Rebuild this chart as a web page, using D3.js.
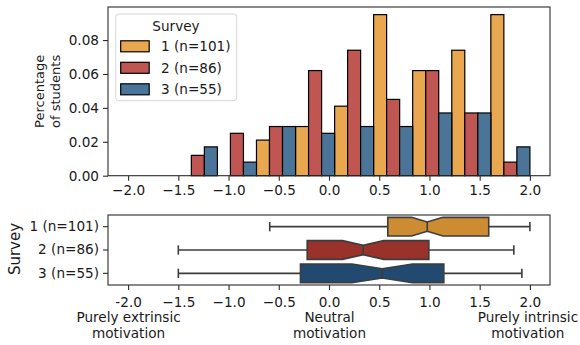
<!DOCTYPE html>
<html>
<head>
<meta charset="utf-8">
<script src="https://cdn.jsdelivr.net/npm/d3@7"></script>
<style>
  body { margin: 0; background: #fff; }
  svg { font-family: "DejaVu Sans", sans-serif; }
</style>
</head>
<body>
<div id="chart"></div>
<script>
// survey groups
const surveys = ['1 (n=101)', '2 (n=86)', '3 (n=55)'];
const histColors = ['#e9a84f', '#bf5652', '#4b7499'];
const boxColors = ['#cd8b32', '#98322a', '#224a70'];

// histogram bins (motivation score) and share of students per bin
const binEdges = [-1.5, -1.111, -0.722, -0.333, 0.056, 0.444, 0.833, 1.222, 1.611, 2.0];
const survey1 = [0, 0, 0.021, 0.029, 0.041, 0.095, 0.062, 0.074, 0.095];
const survey2 = [0.012, 0.025, 0.029, 0.062, 0.074, 0.045, 0.062, 0.037, 0.008];
const survey3 = [0.017, 0.008, 0.029, 0.025, 0.029, 0.029, 0.037, 0.037, 0.017];

// boxplot stats per survey
const whiskerLo = [-0.59, -1.5, -1.5];
const q1 = [0.585, -0.217, -0.284];
const median = [0.978, 0.34, 0.53];
const q3 = [1.59, 0.994, 1.143];
const whiskerHi = [2.0, 1.84, 1.92];
const notchLo = [0.822, 0.135, 0.228];
const notchHi = [1.134, 0.545, 0.832];

const xTicks = [-2.0, -1.5, -1.0, -0.5, 0.0, 0.5, 1.0, 1.5, 2.0];
const yTicks = [0.00, 0.02, 0.04, 0.06, 0.08];
const bottomLabels = {
  '-2': ['-2.0', 'Purely extrinsic', 'motivation'],
  '0': ['0.0', 'Neutral', 'motivation'],
  '2': ['2.0', 'Purely intrinsic', 'motivation']
};

const width = 580, height = 345;
const svg = d3.select('#chart').append('svg')
  .attr('width', width).attr('height', height);

const x = d3.scaleLinear().domain([-2.2, 2.2]).range([108, 550]);
const y = d3.scaleLinear().domain([0, 0.0995]).range([175.7, 7]);

const fs = 13.6;
const spine = '#2b2b2b';
const ink = '#1a1a1a';

// ---------- histogram ----------
const histG = svg.append('g');
const series = [survey1, survey2, survey3];

series.forEach((vals, si) => {
  histG.selectAll(null)
    .data(vals)
    .enter().append('rect')
    .attr('x', (d, i) => {
      const inner = d3.scaleBand().domain(d3.range(3)).range([x(binEdges[i]), x(binEdges[i + 1])]);
      return inner(si);
    })
    .attr('width', (d, i) => (x(binEdges[i + 1]) - x(binEdges[i])) / 3)
    .attr('y', d => y(d))
    .attr('height', d => y(0) - y(d))
    .attr('fill', histColors[si])
    .attr('stroke', d => d > 0 ? '#000' : 'none')
    .attr('stroke-width', 1.2);
});

// axes for histogram
const xAxisTop = d3.axisBottom(x).tickValues(xTicks).tickSize(5).tickPadding(5)
  .tickFormat(d => d3.format('.1f')(d).replace('-', '\u2212'));
histG.append('g').attr('transform', `translate(0,${y(0)})`).call(xAxisTop);

const yAxis = d3.axisLeft(y).tickValues(yTicks).tickSize(5).tickPadding(4)
  .tickFormat(d3.format('.2f'));
histG.append('g').attr('transform', `translate(${x(-2.2)},0)`).call(yAxis);

histG.append('rect')
  .attr('x', x(-2.2)).attr('y', y(0.0995))
  .attr('width', x(2.2) - x(-2.2)).attr('height', y(0) - y(0.0995))
  .attr('fill', 'none').attr('stroke', spine).attr('stroke-width', 1.1);

// y label (two lines)
const yl = histG.append('text')
  .attr('transform', `translate(44,${(y(0) + y(0.0995)) / 2}) rotate(-90)`)
  .attr('text-anchor', 'middle').attr('font-size', 13).attr('fill', ink);
yl.append('tspan').attr('x', 0).attr('dy', 0).text('Percentage');
yl.append('tspan').attr('x', 0).attr('dy', 15.5).text('of students');

// legend
const lg = histG.append('g');
lg.append('rect')
  .attr('x', 115.7).attr('y', 14).attr('width', 121).attr('height', 86.7)
  .attr('rx', 3).attr('fill', 'rgba(255,255,255,0.85)').attr('stroke', '#d6d6d6');
lg.append('text').attr('x', 176).attr('y', 31).attr('text-anchor', 'middle')
  .attr('font-size', fs).attr('fill', ink).text('Survey');
surveys.forEach((s, i) => {
  const cy = 46.3 + i * 21.5;
  lg.append('rect').attr('x', 120.7).attr('y', cy - 5.5).attr('width', 28.5).attr('height', 11)
    .attr('fill', histColors[i]).attr('stroke', '#000').attr('stroke-width', 1.2);
  lg.append('text').attr('x', 161).attr('y', cy + 5).attr('font-size', fs)
    .attr('fill', ink).text(s);
});

// ---------- boxplot ----------
const boxG = svg.append('g');
const yb = d3.scaleBand().domain(surveys).range([215, 285]).paddingInner(0.2).paddingOuter(0.1);
const bw = yb.bandwidth();
const boxStroke = '#3d3d3d';

surveys.forEach((s, i) => {
  const t = yb(s), b = t + bw, c = t + bw / 2;
  const g = boxG.append('g');
  // whiskers
  g.append('line').attr('x1', x(whiskerLo[i])).attr('x2', x(q1[i])).attr('y1', c).attr('y2', c);
  g.append('line').attr('x1', x(q3[i])).attr('x2', x(whiskerHi[i])).attr('y1', c).attr('y2', c);
  // caps
  [whiskerLo[i], whiskerHi[i]].forEach(v => {
    g.append('line').attr('x1', x(v)).attr('x2', x(v)).attr('y1', c - bw / 4).attr('y2', c + bw / 4);
  });
  g.selectAll('line').attr('stroke', boxStroke).attr('stroke-width', 1.6);
  // notched box
  const pts = [
    [x(q1[i]), t], [x(notchLo[i]), t], [x(median[i]), t + bw / 4], [x(notchHi[i]), t], [x(q3[i]), t],
    [x(q3[i]), b], [x(notchHi[i]), b], [x(median[i]), b - bw / 4], [x(notchLo[i]), b], [x(q1[i]), b]
  ];
  g.append('path').attr('d', d3.line()(pts) + 'Z')
    .attr('fill', boxColors[i]).attr('stroke', boxStroke).attr('stroke-width', 1.6)
    .attr('stroke-linejoin', 'miter');
  g.append('line').attr('x1', x(median[i])).attr('x2', x(median[i]))
    .attr('y1', t + bw / 4).attr('y2', b - bw / 4)
    .attr('stroke', boxStroke).attr('stroke-width', 1.6);
});

const yAxisB = d3.axisLeft(yb).tickSize(5).tickPadding(4);
boxG.append('g').attr('transform', `translate(${x(-2.2)},0)`).call(yAxisB);

const xAxisB = d3.axisBottom(x).tickValues(xTicks).tickSize(5).tickPadding(7)
  .tickFormat(d => bottomLabels[d] ? '' : d3.format('.1f')(d));
const xb = boxG.append('g').attr('transform', 'translate(0,285)').call(xAxisB);
xb.selectAll('.tick').each(function(d) {
  const lines = bottomLabels[d];
  if (!lines) return;
  const txt = d3.select(this).select('text').text(null);
  // keep the right-most label inside the canvas
  const shift = d === 2 ? -2.5 : 0;
  lines.forEach((l, k) => {
    txt.append('tspan').attr('x', k === 0 ? 0 : shift)
      .attr('dy', k === 0 ? '0.71em' : '1.14em').text(l);
  });
});

boxG.append('rect').attr('x', x(-2.2)).attr('y', 215)
  .attr('width', x(2.2) - x(-2.2)).attr('height', 70)
  .attr('fill', 'none').attr('stroke', spine).attr('stroke-width', 1.1);

boxG.append('text')
  .attr('transform', `translate(20,249) rotate(-90)`)
  .attr('text-anchor', 'middle').attr('font-size', 15).attr('fill', ink).text('Survey');

// axis styling
svg.selectAll('.domain').remove();
svg.selectAll('.tick line').attr('stroke', spine).attr('stroke-width', 1.1);
svg.selectAll('.tick text').attr('font-size', fs).attr('fill', ink)
  .attr('font-family', '"DejaVu Sans", sans-serif');
</script>
</body>
</html>
